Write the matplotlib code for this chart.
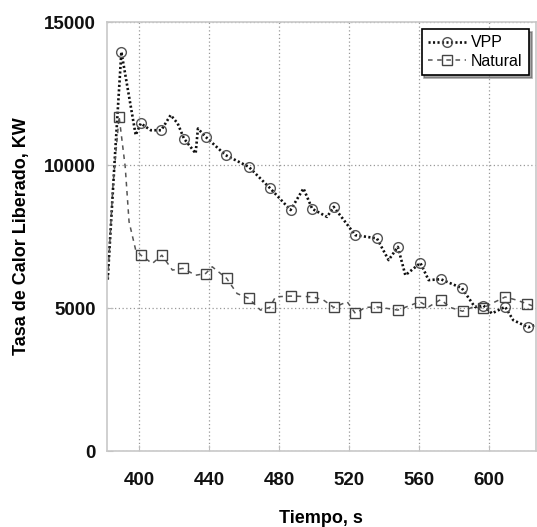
import matplotlib
matplotlib.use("Agg")
import matplotlib.pyplot as plt

plt.rcParams['font.family'] = ['Liberation Sans', 'DejaVu Sans']

# Heat release rate, VPP case
vpp_t = [382, 386, 389.8, 398, 400.9, 406.6, 412.6, 418, 422, 425.6, 432.3, 433.6,
         438, 449.4, 462.7, 475, 486.6, 494, 499, 507.5, 511.3, 523.7, 536, 542.7,
         548, 552.3, 560.9, 565.6, 572.6, 584.6, 592, 597, 601.8, 609.4, 614, 622.6, 626]
vpp_q = [6000, 10200, 13960, 11050, 11460, 11220, 11220, 11750, 11460, 10930, 10410, 11280,
         10990, 10350, 9940, 9185, 8430, 9185, 8470, 8190, 8540, 7550, 7440, 6680,
         7140, 6150, 6580, 5980, 6010, 5700, 5045, 5090, 4815, 5045, 4580, 4330, 4400]
vpp_marks = [2, 4, 6, 9, 12, 13, 14, 15, 16, 18, 20, 21, 22, 24, 26, 28, 29, 31, 33, 35]

# Heat release rate, natural ventilation case
nat_t = [382, 385, 388.5, 392, 394.2, 398, 401, 407.5, 413, 419, 425, 432.3, 438, 441.8,
         450, 456, 462.7, 469.4, 474.7, 478, 486.6, 499, 505.5, 511.3, 519, 523.7,
         529.4, 535.7, 541.8, 548, 554, 560.5, 565.6, 572.5, 578, 585, 590.4, 597,
         603, 609.4, 616, 622, 626.5]
nat_q = [6000, 9300, 11700, 9940, 8020, 7030, 6850, 6560, 6850, 6330, 6390, 6150, 6210, 6445,
         6040, 5510, 5340, 4930, 5024, 5395, 5420, 5400, 5280, 5024, 5222, 4815,
         5024, 5045, 4990, 4930, 5070, 5222, 5045, 5300, 5024, 4890, 5024, 5010,
         5200, 5390, 5280, 5150, 5045]
nat_marks = [2, 6, 8, 10, 12, 14, 16, 18, 20, 21, 23, 25, 27, 29, 31, 33, 35, 37, 39, 41]

x_ticks = [400, 440, 480, 520, 560, 600]
y_ticks = [0, 5000, 10000, 15000]

fig = plt.figure(figsize=(5.37, 5.27), dpi=100)
ax = fig.add_axes([0.199, 0.144, 0.799, 0.814])

ax.plot(vpp_t, vpp_q, linestyle=(0, (0.8, 0.9)), color='#111111', linewidth=1.9,
        marker='o', markevery=vpp_marks, markersize=7, markerfacecolor='none',
        markeredgecolor='#555555', markeredgewidth=1.0, label='VPP')
ax.plot(nat_t, nat_q, linestyle=(0, (3, 3)), color='#555555', linewidth=1.1,
        marker='s', markevery=nat_marks, markersize=7, markerfacecolor='none',
        markeredgecolor='#444444', markeredgewidth=1.0, label='Natural')

ax.set_xlim(381.5, 627)
ax.set_ylim(0, 15000)
ax.set_xticks(x_ticks)
ax.set_yticks(y_ticks)

ax.grid(True, linestyle=(0, (1, 2)), color='#999999', linewidth=0.9)
for s in ax.spines.values():
    s.set_color('#c8c8c8')
    s.set_linewidth(1.2)

ax.tick_params(axis='both', direction='in', length=4, color='#bbbbbb')
ax.tick_params(axis='x', pad=15)
ax.tick_params(axis='y', pad=8)
for lbl in ax.get_xticklabels() + ax.get_yticklabels():
    lbl.set_fontweight('bold')
    lbl.set_fontsize(13.5)
    lbl.set_color('#111111')

ax.set_xlabel('Tiempo, s', fontsize=13, fontweight='bold', labelpad=15)
ax.set_ylabel('Tasa de Calor Liberado, KW', fontsize=13, fontweight='bold', labelpad=10)

leg = ax.legend(loc='upper right', fontsize=11.5, frameon=True, fancybox=False,
                shadow=True, borderpad=0.4, handlelength=2.4, handletextpad=0.3,
                labelspacing=0.2, borderaxespad=0.3, bbox_to_anchor=(0.995, 0.995))
leg.get_frame().set_edgecolor('black')
leg.get_frame().set_linewidth(1.2)

fig.savefig('out.png', dpi=100)
